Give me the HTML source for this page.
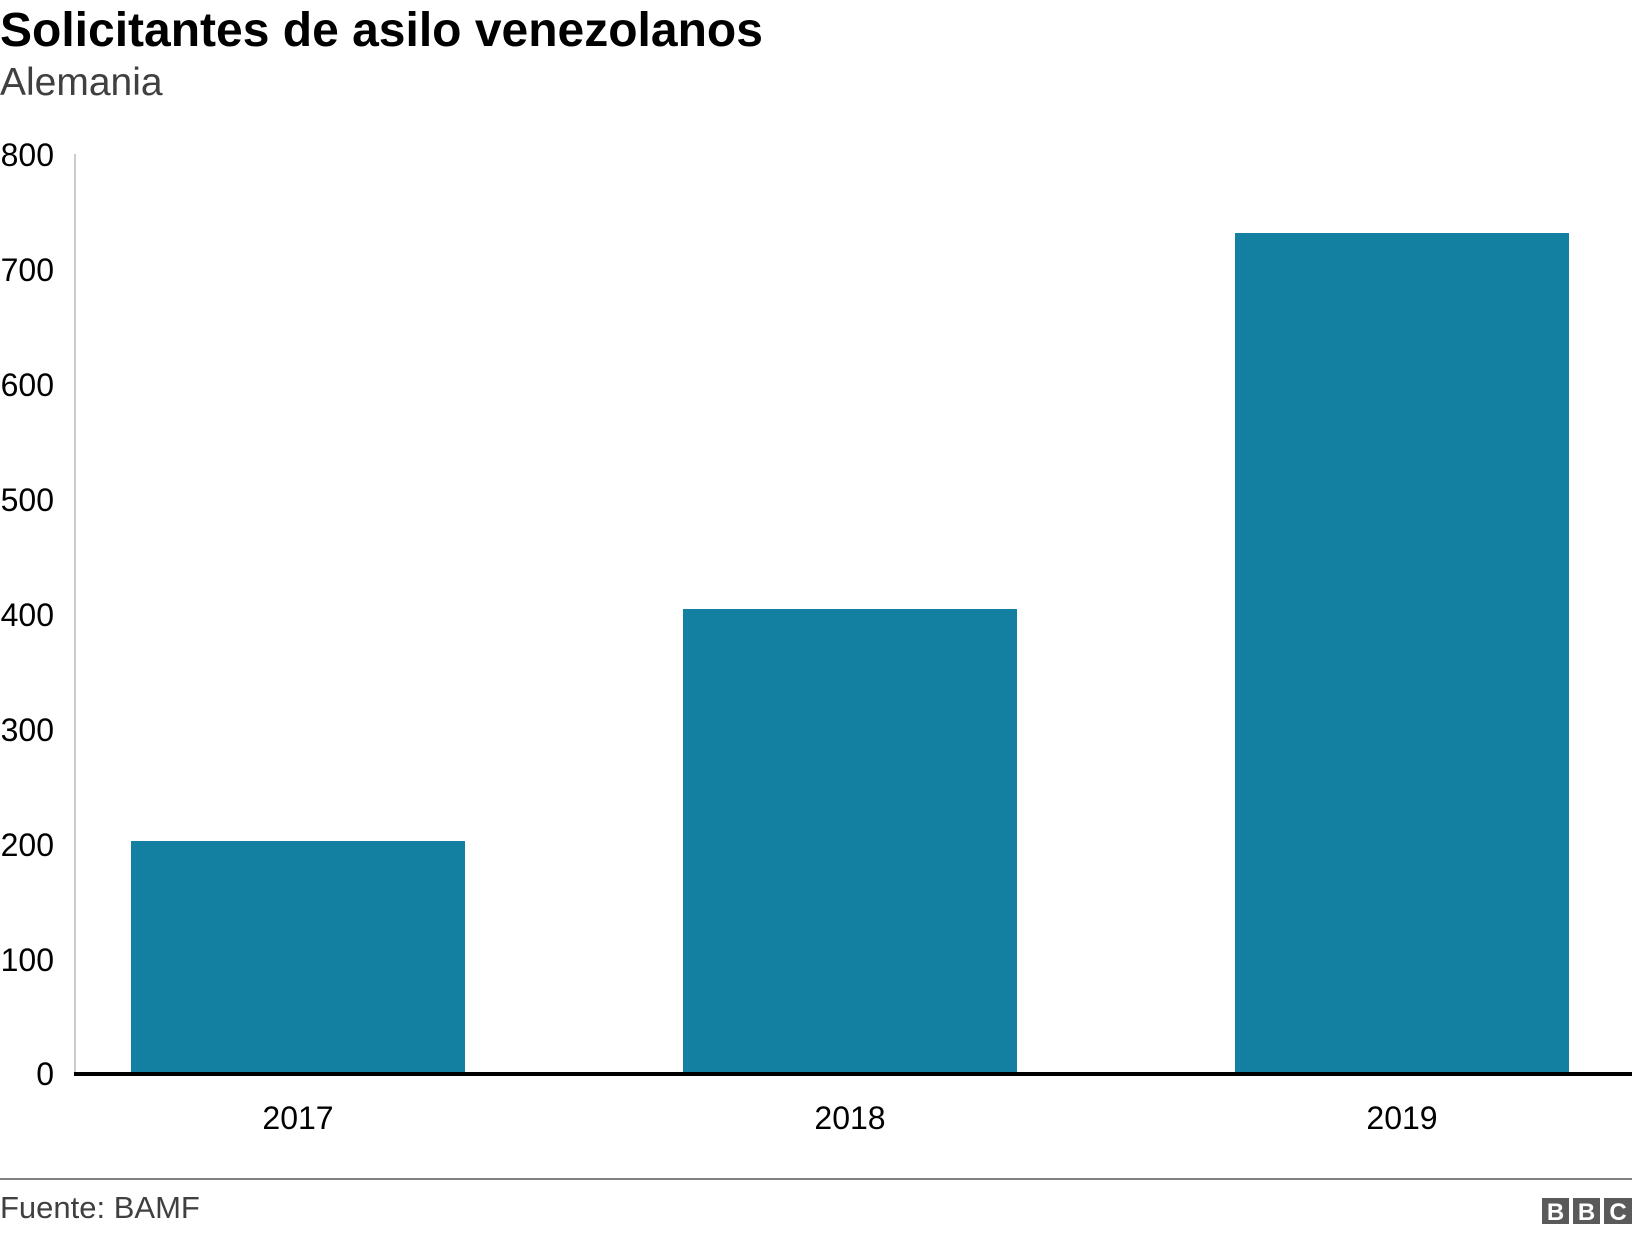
<!DOCTYPE html>
<html><head><meta charset="utf-8"><style>
body{margin:0;width:1632px;height:1234px;background:#fff;overflow:hidden;font-family:"Liberation Sans",Arial,sans-serif}
</style></head><body>
<svg width="1632" height="1234" xmlns="http://www.w3.org/2000/svg" font-family="Liberation Sans, Arial, sans-serif">
<text x="0" y="46" font-size="48" font-weight="bold" fill="#000">Solicitantes de asilo venezolanos</text>
<text x="0" y="95" font-size="39" fill="#404040">Alemania</text>
<line x1="75" y1="154" x2="75" y2="1073" stroke="#ccc" stroke-width="2"/>
<g font-size="32" fill="#000" text-anchor="end">
<text x="54" y="166">800</text>
<text x="54" y="281">700</text>
<text x="54" y="396">600</text>
<text x="54" y="511">500</text>
<text x="54" y="626">400</text>
<text x="54" y="741">300</text>
<text x="54" y="856">200</text>
<text x="54" y="971">100</text>
<text x="54" y="1085">0</text>
</g>
<g fill="#1380a1">
<rect x="131" y="841" width="334" height="232"/>
<rect x="683" y="609" width="334" height="464"/>
<rect x="1235" y="233" width="334" height="840"/>
</g>
<line x1="74" y1="1074" x2="1632" y2="1074" stroke="#000" stroke-width="4"/>
<g font-size="32" fill="#000" text-anchor="middle">
<text x="298" y="1129">2017</text>
<text x="850" y="1129">2018</text>
<text x="1402" y="1129">2019</text>
</g>
<line x1="0" y1="1179" x2="1632" y2="1179" stroke="#808080" stroke-width="2"/>
<text x="0" y="1218" font-size="31" fill="#404040">Fuente: BAMF</text>
<g fill="#5a5a5a">
<rect x="1542" y="1198" width="27" height="26"/>
<rect x="1573" y="1198" width="27" height="26"/>
<rect x="1604" y="1198" width="28" height="26"/>
</g>
<g font-size="24" font-weight="bold" fill="#fff" text-anchor="middle">
<text x="1555.5" y="1220">B</text>
<text x="1586.5" y="1220">B</text>
<text x="1618" y="1220">C</text>
</g>
</svg>
</body></html>
